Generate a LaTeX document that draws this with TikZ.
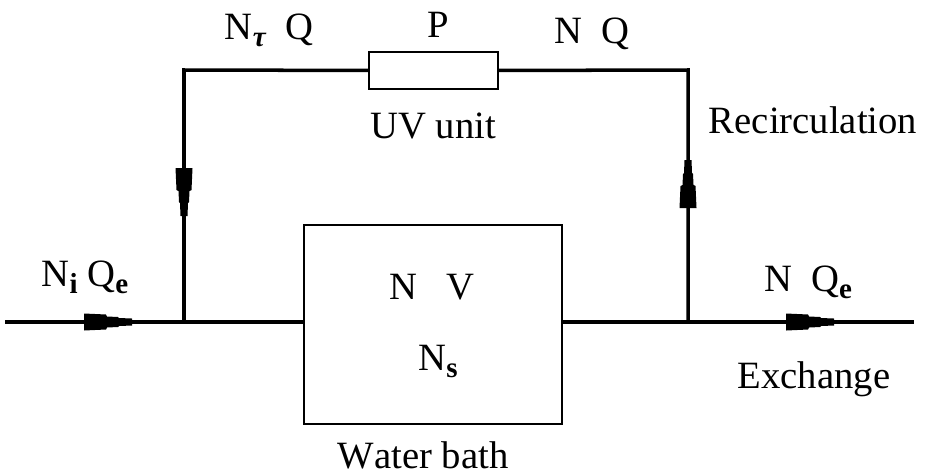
\documentclass[tikz,border=0pt]{standalone}
\usepackage{fontspec}
\setmainfont[Kerning=Off]{Liberation Serif}
\usepackage{tikz}
\usetikzlibrary{calc}
\newcommand{\lowtext}[1]{\raisebox{-4.5pt}{\fontsize{16.5}{16.5}\selectfont\bfseries #1}}
\tikzset{
  pipe/.style={line width=2pt},
  unitbox/.style={draw,line width=1.1pt,minimum width=#1,inner sep=0pt,anchor=north west},
  lbl/.style={anchor=base,inner sep=0pt,font=\fontsize{22}{22}\selectfont},
  flowtip/.pic={
    \fill (-24,-8.5) -- (-2,-7.5) -- (-1,-5.5) -- (10,-5) -- (11,-4) -- (24,-3.5) -- (24,3.5)
      -- (11,4) -- (10,5) -- (-1,5.5) -- (-2,7.5) -- (-24,8.5) -- cycle;
  }
}
\begin{document}
\begin{tikzpicture}[x=0.02cm,y=-0.02cm]
   \useasboundingbox (0,0) rectangle (928,474);

   \node[unitbox=129*0.02cm,minimum height=37*0.02cm] (uv) at (368,51) {};
   \node[unitbox=258*0.02cm,minimum height=199*0.02cm] (bath) at (303,224) {};

   \coordinate (in) at (5,322);
   \coordinate (out) at (914,322);
   \coordinate (jl) at (184,322);
   \coordinate (jr) at (688,322);
   \coordinate (cl) at (184,70);
   \coordinate (cr) at (688,70);

   \draw[pipe] (in) -- (bath.west |- in);
   \draw[pipe] (bath.east |- out) -- (out);
   \draw[pipe] (jl) -- (cl) -- (uv.west);
   \draw[pipe] (uv.east) -- (cr) -- (jr);

   \pic at (108,322) {flowtip};
   \pic at (810,322) {flowtip};
   \pic[rotate=-90] at (184,192) {flowtip};
   \pic[rotate=90] at (688,184) {flowtip};

   \node[lbl] (ni) at (85,286) {N\lowtext{i} Q\lowtext{e}};
   \node[lbl] (nt) at (269,39) {N\lowtext{\itshape τ}\ \ Q};
   \node[lbl] (pw) at (438,37) {P};
   \node[lbl] (nq) at (592,43) {N\ \ Q};
   \node[lbl] (uvl) at (433,138) {UV unit};
   \node[lbl] (rec) at (813,133) {Recirculation};
   \node[lbl] (nv) at (432,299) {N\ \ \ V};
   \node[lbl] (ns) at (438,370) {N\lowtext{s}};
   \node[lbl] (nqe) at (808,291) {N\ \ Q\lowtext{e}};
   \node[lbl] (ex) at (814,388) {Exchange};
   \node[lbl] (wb) at (423,468) {Water bath};
\end{tikzpicture}
\end{document}
